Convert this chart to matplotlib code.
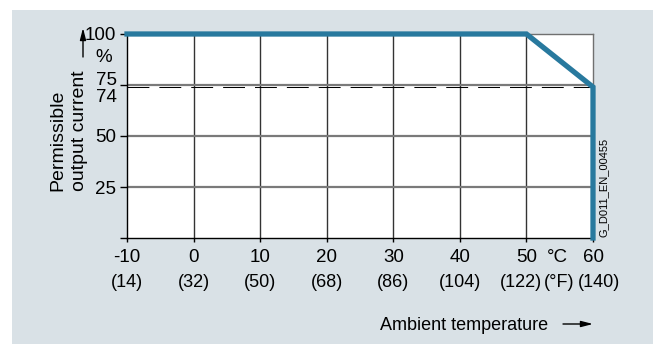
"""Permissible output current derating over ambient temperature."""

import matplotlib

matplotlib.use("Agg")
import matplotlib.pyplot as plt
from matplotlib.patches import Rectangle
from matplotlib.transforms import blended_transform_factory

plt.rcParams["font.family"] = ["Liberation Sans", "DejaVu Sans"]

# Derating curve: ambient temperature (°C) -> permissible output current (%)
curve_temp_c = [-10, 50, 60, 60]
curve_current = [100, 100, 74, 0]

temp_ticks_c = [-10, 0, 10, 20, 30, 40, 50, 60]
temp_ticks_f = ["(14)", "(32)", "(50)", "(68)", "(86)", "(104)", "(122)", "(140)"]
current_ticks = [0, 25, 50, 75, 100]
current_labels = ["", "25", "50", "", "100"]
limit_current = 74

W, H, DPI = 653, 344, 100
PANEL = "#d9e1e6"
BLUE = "#28799e"
FS = 13.5


def fx(px):
    return px / W


def fy(py):
    return 1 - py / H


fig = plt.figure(figsize=(W / DPI, H / DPI), dpi=DPI)
fig.patch.set_facecolor("white")
fig.patches.append(
    Rectangle((fx(12.5), 0), 1 - fx(12.5), fy(10),
              transform=fig.transFigure, facecolor=PANEL, edgecolor="none", zorder=-10)
)

ax = fig.add_axes([fx(127), fy(238), 466 / W, 204 / H])
ax.set_facecolor("white")
ax.set_xlim(-10, 60)
ax.set_ylim(0, 100)

# grid
for t in temp_ticks_c[1:-1]:
    ax.axvline(t, color="#333333", lw=1.0, zorder=1)
for c in current_ticks[1:-1]:
    ax.axhline(c, color="#7a7a7a", lw=1.6, zorder=1)

ax.axhline(limit_current, color="black", lw=0.75,
           linestyle=(0, (21, 9.6)), zorder=2)

ax.plot(curve_temp_c, curve_current, color=BLUE, lw=3.8,
        solid_joinstyle="miter", clip_on=False, zorder=5)

for side in ("left", "bottom"):
    ax.spines[side].set_color("black")
    ax.spines[side].set_linewidth(1.0)
for side in ("top", "right"):
    ax.spines[side].set_color("#707070")
    ax.spines[side].set_linewidth(1.0)

ax.set_yticks(current_ticks)
ax.set_yticklabels(current_labels, fontsize=FS)
ax.tick_params(axis="y", length=5, width=1, pad=3)
ax.set_xticks(temp_ticks_c)
ax.set_xticklabels([])
ax.tick_params(axis="x", length=3, width=1)

# 75 / 74 labels are pushed apart so they don't collide
ax.annotate("75", xy=(-10, 75), xytext=(-7.5, 0), textcoords="offset points",
            ha="right", va="baseline", fontsize=FS, annotation_clip=False)
ax.annotate(str(limit_current), xy=(-10, limit_current), xytext=(-7.5, -10.6),
            textcoords="offset points", ha="right", va="baseline", fontsize=FS,
            annotation_clip=False)

# two-row temperature labels (°C over °F); the last two °F labels make room
# for the unit squeezed between them
trans = blended_transform_factory(ax.transData, fig.transFigure)
f_shift_pt = {50: -3.6, 60: 4.3}
for tc, tf in zip(temp_ticks_c, temp_ticks_f):
    ax.text(tc, fy(262.5), str(tc), transform=trans, ha="center",
            va="baseline", fontsize=FS)
    ax.annotate(tf, xy=(tc, fy(287)), xycoords=trans,
                xytext=(f_shift_pt.get(tc, 0), 0), textcoords="offset points",
                ha="center", va="baseline", fontsize=13, annotation_clip=False)
fig.text(fx(557), fy(262.5), "°C", ha="center", va="baseline", fontsize=FS)
fig.text(fx(559), fy(287), "(°F)", ha="center", va="baseline", fontsize=13)

# y axis caption with unit and arrow
fig.text(fx(58), fy(191), "Permissible", rotation=90, rotation_mode="anchor",
         ha="left", va="center", fontsize=14)
fig.text(fx(79), fy(191), "output current", rotation=90, rotation_mode="anchor",
         ha="left", va="center", fontsize=14)
fig.text(fx(104), fy(61.5), "%", ha="center", va="baseline", fontsize=FS)
ax.annotate("", xy=(fx(83), fy(28)), xytext=(fx(83), fy(57)),
            xycoords="figure fraction", textcoords="figure fraction",
            arrowprops=dict(arrowstyle="-|>,head_length=0.7,head_width=0.18",
                            color="black", lw=1.0, shrinkA=0, shrinkB=0))

# x axis caption with arrow
fig.text(fx(548), fy(330), "Ambient temperature", ha="right", va="baseline",
         fontsize=13)
ax.annotate("", xy=(fx(593), fy(324)), xytext=(fx(563), fy(324)),
            xycoords="figure fraction", textcoords="figure fraction",
            arrowprops=dict(arrowstyle="-|>,head_length=0.7,head_width=0.18",
                            color="black", lw=1.0, shrinkA=0, shrinkB=0))

# drawing number
fig.text(fx(604), fy(237), "G_D011_EN_00455", rotation=90,
         rotation_mode="anchor", ha="left", va="center", fontsize=8)

fig.savefig("out.png", dpi=DPI)
plt.close(fig)
